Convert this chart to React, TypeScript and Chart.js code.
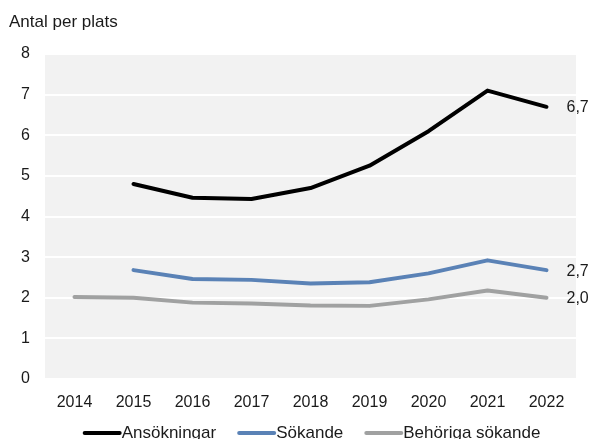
import React, { useEffect, useRef } from "react";
import { Chart, registerables } from "chart.js";

Chart.register(...registerables);

const years = ["2014", "2015", "2016", "2017", "2018", "2019", "2020", "2021", "2022"];
const ansokningar = [null, 4.8, 4.46, 4.43, 4.7, 5.25, 6.1, 7.1, 6.7];
const sokande = [null, 2.68, 2.46, 2.44, 2.35, 2.38, 2.6, 2.92, 2.68];
const behoriga = [2.02, 2.0, 1.88, 1.86, 1.81, 1.8, 1.96, 2.18, 2.0];
const endLabels = ["6,7", "2,7", "2,0"];
const seriesNames = ["Ansökningar", "Sökande", "Behöriga sökande"];
const seriesColors = ["#000000", "#5a82b6", "#a0a1a1"];
const yTitle = "Antal per plats";

const FONT = "'Liberation Sans', Arial, Helvetica, sans-serif";

const overlayPlugin = {
  id: "overlay",
  afterDraw(chart: any) {
    const ctx = chart.ctx;
    const area = chart.chartArea;
    ctx.save();
    // title
    ctx.fillStyle = "#1a1a1a";
    ctx.font = `17px ${FONT}`;
    ctx.textAlign = "left";
    ctx.textBaseline = "alphabetic";
    ctx.fillText(yTitle, 9, 27);

    // end labels
    ctx.font = `16px ${FONT}`;
    ctx.textBaseline = "middle";
    chart.data.datasets.forEach((ds: any, i: number) => {
      const meta = chart.getDatasetMeta(i);
      const pts = meta.data;
      const last = pts[pts.length - 1];
      if (last) ctx.fillText(endLabels[i], last.x + 20, last.y + 1);
    });

    // legend
    ctx.font = `17px ${FONT}`;
    const lineW = 39;
    const gap = 21;
    const widths = seriesNames.map((n) => ctx.measureText(n).width);
    let total = 0;
    widths.forEach((w, i) => {
      total += lineW + w + (i < widths.length - 1 ? gap : 0);
    });
    let x = (area.left + area.right) / 2 + 1 - total / 2;
    const y = 433;
    seriesNames.forEach((n, i) => {
      ctx.strokeStyle = seriesColors[i];
      ctx.lineWidth = 4;
      ctx.lineCap = "round";
      ctx.beginPath();
      ctx.moveTo(x + 2, y);
      ctx.lineTo(x + lineW - 2, y);
      ctx.stroke();
      ctx.fillStyle = "#1a1a1a";
      ctx.textBaseline = "middle";
      ctx.fillText(n, x + lineW, y);
      x += lineW + widths[i] + gap;
    });
    ctx.restore();
  },
};

const bgPlugin = {
  id: "plotbg",
  beforeDraw(chart: any) {
    const { ctx, chartArea } = chart;
    ctx.save();
    ctx.fillStyle = "#f2f2f2";
    ctx.fillRect(chartArea.left, chartArea.top, chartArea.right - chartArea.left, chartArea.bottom - chartArea.top);
    ctx.restore();
  },
};

export default function App() {
  const ref = useRef<HTMLCanvasElement>(null);
  useEffect(() => {
    if (!ref.current) return;
    const mk = (label: string, data: any[], color: string) => ({
      label,
      data,
      borderColor: color,
      backgroundColor: color,
      borderWidth: 4,
      pointRadius: 0,
      tension: 0,
      borderCapStyle: "round" as const,
      borderJoinStyle: "round" as const,
    });
    const chart = new Chart(ref.current, {
      type: "line",
      data: {
        labels: years,
        datasets: [
          mk(seriesNames[0], ansokningar, seriesColors[0]),
          mk(seriesNames[1], sokande, seriesColors[1]),
          mk(seriesNames[2], behoriga, seriesColors[2]),
        ],
      },
      options: {
        animation: false,
        responsive: false,
        maintainAspectRatio: false,
        layout: { padding: { top: 54, right: 17, left: 0, bottom: 0 } },
        plugins: { legend: { display: false }, tooltip: { enabled: false }, title: { display: false } },
        scales: {
          x: {
            offset: true,
            grid: { display: false, drawTicks: false },
            border: { display: false },
            ticks: { color: "#1a1a1a", font: { family: FONT, size: 16 }, padding: 14, maxRotation: 0 },
            afterFit: (s: any) => {
              s.height = 60;
            },
          },
          y: {
            min: 0,
            max: 8,
            grid: { color: "#ffffff", lineWidth: 2, drawTicks: false },
            border: { display: false },
            ticks: { stepSize: 1, color: "#1a1a1a", font: { family: FONT, size: 16 }, padding: 15 },
            afterFit: (s: any) => {
              s.width = 45;
            },
          },
        },
      },
      plugins: [bgPlugin, overlayPlugin],
    });
    return () => chart.destroy();
  }, []);
  return (
    <div style={{ position: "fixed", left: 0, top: 0, width: 593, height: 439 }}>
      <canvas ref={ref} width={593} height={439} style={{ width: 593, height: 439 }} />
    </div>
  );
}
